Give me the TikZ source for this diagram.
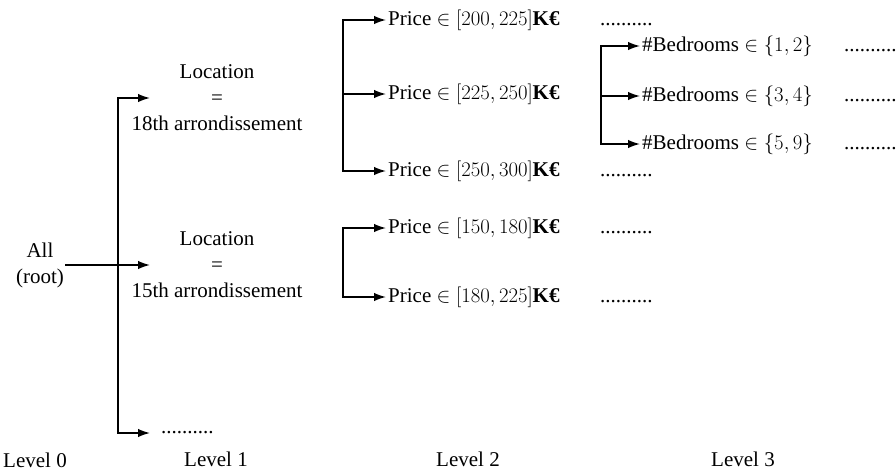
\documentclass[tikz,border=0pt]{standalone}
\usepackage{fontspec}
\setmainfont{Liberation Serif}
\usepackage{tikz}
\usetikzlibrary{positioning, arrows.meta, calc}

\begin{document}
\begin{tikzpicture}[
    x=1pt, y=-1pt,
    every node/.style={font=\fontsize{21}{26}\selectfont, inner sep=2pt},
    label/.style={align=center},
    cond/.style={anchor=west},
    more/.style={anchor=west, inner sep=0pt},
    link/.style={line width=1.5pt, line cap=rect},
    arr/.style={link, -{Latex[length=12pt, width=8.5pt]}}
]
    \useasboundingbox (0,0) rectangle (896,471);
    % level 0 and 1
    \node[label] (root) at (40,265) {All\\(root)};
    \node[label] (loc18) at (217,98) {Location\\=\\18th arrondissement};
    \node[label] (loc15) at (217,265) {Location\\=\\15th arrondissement};
    \node[more] (more1) at (161,433) {..........};
    \coordinate (br1) at (118,0);
    \coordinate (tip1) at (150,0);
    \draw[arr] (br1 |- more1.west) |- (loc18 -| tip1);
    \draw[arr] (br1 |- more1.west) -- (more1.west -| tip1);
    \draw[arr] (root.east |- loc15) -- (loc15 -| tip1);
    % level 2
    \node[cond] (p1) at (386,20) {Price $\in [200, 225]$\textbf{K€}};
    \node[cond] (p2) at (386,94) {Price $\in [225, 250]$\textbf{K€}};
    \node[cond] (p3) at (386,171) {Price $\in [250, 300]$\textbf{K€}};
    \node[cond] (p4) at (386,228) {Price $\in [150, 180]$\textbf{K€}};
    \node[cond] (p5) at (386,297) {Price $\in [180, 225]$\textbf{K€}};
    \coordinate (br2) at (343,0);
    \draw[arr] (br2 |- p3.west) |- (p1.west);
    \draw[arr] (br2 |- p3.west) -- (p3.west);
    \draw[arr] (br2 |- p2.west) -- (p2.west);
    \draw[arr] (br2 |- p5.west) |- (p4.west);
    \draw[arr] (br2 |- p5.west) -- (p5.west);
    \foreach \n in {p1,p3,p4,p5}
        \node[more] (d\n) at (600,0 |- \n.base) [anchor=base west] {..........};
    % level 3
    \node[cond] (b1) at (640,46) {\#Bedrooms $\in \{1, 2\}$};
    \node[cond] (b2) at (640,96) {\#Bedrooms $\in \{3, 4\}$};
    \node[cond] (b3) at (640,144) {\#Bedrooms $\in \{5, 9\}$};
    \coordinate (br3) at (601,0);
    \draw[arr] (br3 |- b3.west) |- (b1.west);
    \draw[arr] (br3 |- b3.west) -- (b3.west);
    \draw[arr] (br3 |- b2.west) -- (b2.west);
    \foreach \n in {b1,b2,b3}
        \node[more] (d\n) at (844,0 |- \n.base) [anchor=base west] {..........};
    % levels
    \node (lv0) at (35,460) {Level 0};
    \node (lv1) at (216,459) {Level 1};
    \node (lv2) at (468,459) {Level 2};
    \node (lv3) at (743,459) {Level 3};
\end{tikzpicture}
\end{document}
